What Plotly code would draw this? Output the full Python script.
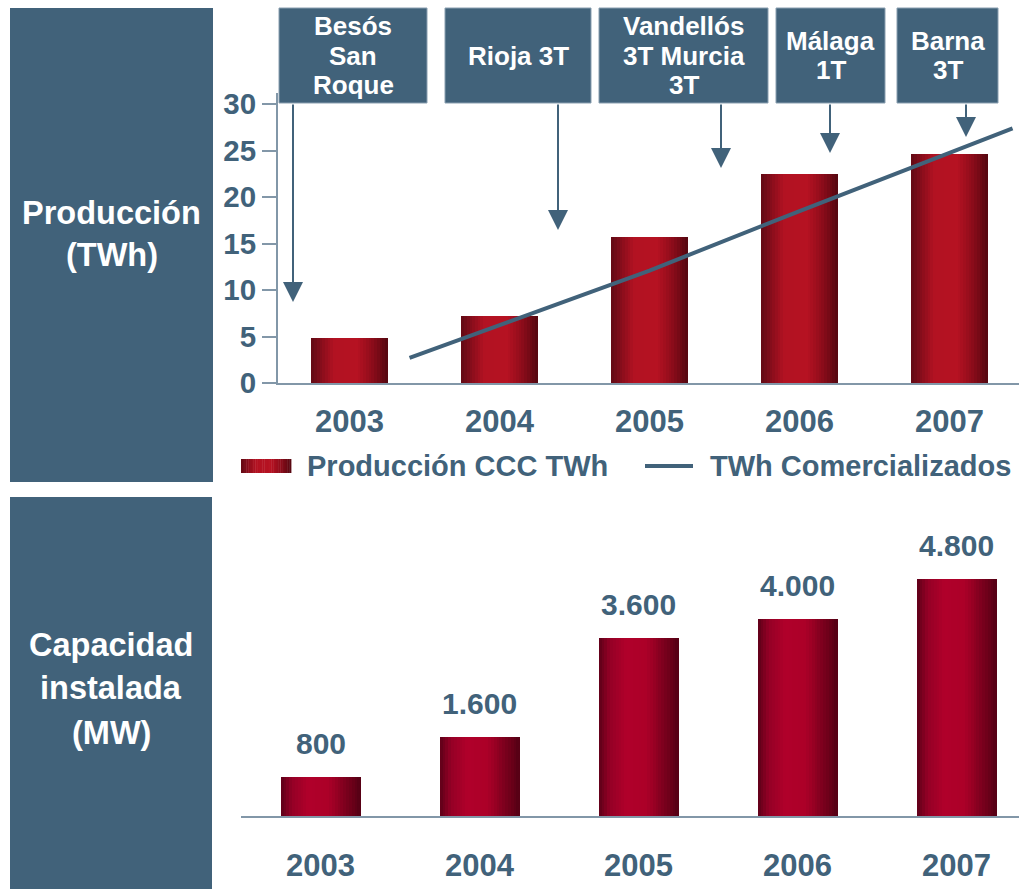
import plotly.graph_objects as go

# ---- data -------------------------------------------------------------
years = [2003, 2004, 2005, 2006, 2007]
produccion_ccc_twh = [4.8, 7.2, 15.7, 22.5, 24.6]
comercializados_x = [2003.4, 2004, 2005, 2006, 2007, 2007.42]
comercializados_twh = [2.7, 6.2, 12.1, 18.5, 24.8, 27.4]
capacidad_mw = [800, 1600, 3600, 4000, 4800]
twh_ticks = [0, 5, 10, 15, 20, 25, 30]
year_labels = [str(y) for y in years]
hitos = [["Besós", "San", "Roque"], ["Rioja 3T"], ["Vandellós", "3T Murcia", "3T"],
         ["Málaga", "1T"], ["Barna", "3T"]]
panel_titles = [["Producción", "(TWh)"], ["Capacidad", "instalada", "(MW)"]]
legend_labels = ["Producción CCC TWh", "TWh Comercializados"]

# ---- style ------------------------------------------------------------
W, H = 1019, 889
SLATE = "#41627a"
AXIS = "#8297a8"
FONT = "Liberation Sans, Arial, sans-serif"
N_STRIPS = 28

TOP_STOPS = [(0.0, (98, 10, 20)), (0.15, (140, 14, 28)), (0.3, (178, 18, 34)),
             (0.6, (182, 18, 34)), (0.8, (140, 12, 26)), (1.0, (84, 6, 16))]
BOT_STOPS = [(0.0, (94, 0, 24)), (0.15, (150, 0, 38)), (0.35, (176, 0, 42)),
             (0.6, (172, 0, 40)), (0.8, (128, 0, 30)), (1.0, (84, 0, 20))]


def ramp(stops, t):
    for (t0, c0), (t1, c1) in zip(stops[:-1], stops[1:]):
        if t <= t1:
            f = (t - t0) / (t1 - t0) if t1 > t0 else 0
            c = [round(a + (b - a) * f) for a, b in zip(c0, c1)]
            return "rgb(%d,%d,%d)" % tuple(c)
    return "rgb(%d,%d,%d)" % stops[-1][1]


def px(x):
    return x / W


def py(y):
    return 1 - y / H


fig = go.Figure()


def cylinder_bars(xs, ys, width, stops, xaxis, yaxis):
    step = width / N_STRIPS
    for k in range(N_STRIPS):
        fig.add_trace(go.Bar(
            x=xs, y=ys, width=step * 1.15, offset=-width / 2 + k * step,
            marker=dict(color=ramp(stops, (k + 0.5) / N_STRIPS), line=dict(width=0)),
            xaxis=xaxis, yaxis=yaxis, showlegend=False, hoverinfo="skip"))


# production bars + commercialised line
cylinder_bars(years, produccion_ccc_twh, 0.51, TOP_STOPS, "x", "y")
fig.add_trace(go.Scatter(
    x=comercializados_x, y=comercializados_twh, mode="lines",
    line=dict(color=SLATE, width=4), xaxis="x", yaxis="y",
    showlegend=False, hoverinfo="skip"))

# installed capacity bars
cylinder_bars(years, capacidad_mw, 0.5, BOT_STOPS, "x2", "y2")

annotations = []
shapes = []

# value labels above capacity bars
for yr, v in zip(years, capacidad_mw):
    annotations.append(dict(
        x=yr, y=v, xref="x2", yref="y2", xanchor="center", yanchor="bottom",
        yshift=15, text=f"{v:,}".replace(",", "."), showarrow=False,
        font=dict(family=FONT, size=30, color=SLATE, weight="bold")))

# left-hand panel blocks with titles
for (x0, y0, x1, y1), lines, centers in [
        ((10, 8, 213, 482), panel_titles[0], [213, 255]),
        ((10, 497, 212, 889), panel_titles[1], [645, 688, 733])]:
    shapes.append(dict(type="rect", xref="paper", yref="paper",
                       x0=px(x0), x1=px(x1), y0=py(y1), y1=py(y0),
                       fillcolor=SLATE, line=dict(width=0), layer="below"))
    for txt, cy in zip(lines, centers):
        annotations.append(dict(
            x=px((x0 + x1) / 2), y=py(cy), xref="paper", yref="paper",
            text=txt, showarrow=False, xanchor="center", yanchor="middle",
            font=dict(family=FONT, size=32.5, color="white", weight="bold")))

# milestone boxes with arrows
box_x = [(279, 427), (445, 591), (599, 768), (776, 885), (897, 998)]
arrow_x = [293, 558, 721, 830, 966]
arrow_tip = [302, 230, 168, 153, 137]
BOX_TOP, BOX_BOT = 8, 103
for (x0, x1), lines, axp, tip in zip(box_x, hitos, arrow_x, arrow_tip):
    shapes.append(dict(type="rect", xref="paper", yref="paper",
                       x0=px(x0), x1=px(x1), y0=py(BOX_BOT), y1=py(BOX_TOP),
                       fillcolor=SLATE, line=dict(color="#8a9fb0", width=1)))
    n = len(lines)
    for i, txt in enumerate(lines):
        cy = 55.5 + (i - (n - 1) / 2) * 29
        annotations.append(dict(
            x=px((x0 + x1) / 2), y=py(cy), xref="paper", yref="paper",
            text=txt, showarrow=False, xanchor="center", yanchor="middle",
            font=dict(family=FONT, size=26, color="white", weight="bold")))
    annotations.append(dict(
        x=px(axp), y=py(tip), xref="paper", yref="paper", text="",
        showarrow=True, ax=0, ay=BOX_BOT - tip, arrowhead=2, arrowsize=2,
        arrowwidth=2, arrowcolor=SLATE, standoff=0, startstandoff=0))

# custom legend
LEG_Y = 466
for k in range(N_STRIPS):
    xa = 241 + k * 50 / N_STRIPS
    shapes.append(dict(type="rect", xref="paper", yref="paper",
                       x0=px(xa), x1=px(xa + 50 / N_STRIPS + 0.4),
                       y0=py(473), y1=py(459),
                       fillcolor=ramp(TOP_STOPS, (k + 0.5) / N_STRIPS),
                       line=dict(width=0)))
shapes.append(dict(type="line", xref="paper", yref="paper",
                   x0=px(645), x1=px(693), y0=py(LEG_Y), y1=py(LEG_Y),
                   line=dict(color=SLATE, width=4)))
for txt, xl in zip(legend_labels, [305, 708]):
    annotations.append(dict(
        x=px(xl), y=py(LEG_Y), xref="paper", yref="paper", text=txt,
        showarrow=False, xanchor="left", yanchor="middle",
        font=dict(family=FONT, size=29, color=SLATE, weight="bold")))

fig.update_layout(
    template="none",
    width=W, height=H, margin=dict(l=0, r=0, t=0, b=0, pad=0, autoexpand=False),
    paper_bgcolor="white", plot_bgcolor="rgba(0,0,0,0)",
    barmode="overlay", bargap=0, showlegend=False,
    annotations=annotations, shapes=shapes,
    xaxis=dict(domain=[px(278), 1], range=[2002.523, 2007.463], anchor="y",
               tickvals=years, ticktext=year_labels, ticks="", showgrid=False,
               zeroline=False, showline=True, linecolor=AXIS, linewidth=2,
               ticklabelstandoff=10, automargin=False,
               tickfont=dict(family=FONT, size=31, color=SLATE, weight="bold")),
    yaxis=dict(domain=[py(383), py(93)], range=[0, 31.2], anchor="x",
               tickvals=twh_ticks, ticks="outside", ticklen=14, tickwidth=2,
               tickcolor=AXIS, showgrid=False, zeroline=False, showline=True,
               linecolor=AXIS, linewidth=2, automargin=False,
               tickfont=dict(family=FONT, size=29.5, color=SLATE, weight="bold")),
    xaxis2=dict(domain=[px(241), 1], range=[2002.5, 2007.393], anchor="y2",
                tickvals=years, ticktext=year_labels, ticks="", showgrid=False,
                zeroline=False, showline=True, linecolor=AXIS, linewidth=2,
                ticklabelstandoff=21, automargin=False,
                tickfont=dict(family=FONT, size=31, color=SLATE, weight="bold")),
    yaxis2=dict(domain=[py(816), py(520)], range=[0, 6000], anchor="x2",
                visible=False),
)

fig.write_html("out.html")
